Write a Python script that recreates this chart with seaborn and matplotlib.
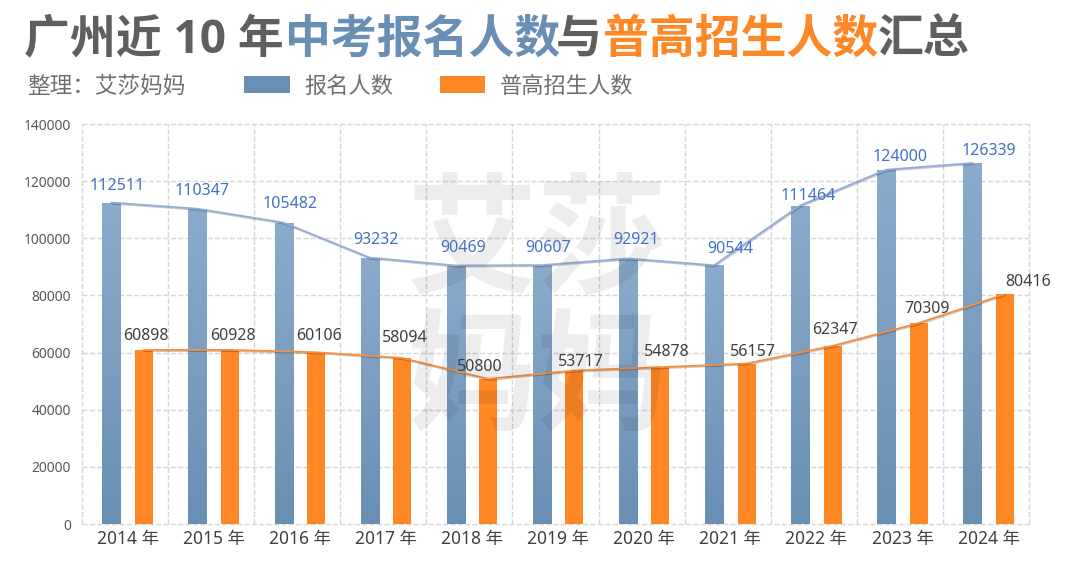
import numpy as np
import pandas as pd
import seaborn as sns
import matplotlib.pyplot as plt
import matplotlib.patheffects as pe
from matplotlib.colors import LinearSegmentedColormap

# datos
years = ['2014 年', '2015 年', '2016 年', '2017 年', '2018 年', '2019 年',
         '2020 年', '2021 年', '2022 年', '2023 年', '2024 年']
baoming = [112511, 110347, 105482, 93232, 90469, 90607, 92921, 90544, 111464, 124000, 126339]
putong = [60898, 60928, 60106, 58094, 50800, 53717, 54878, 56157, 62347, 70309, 80416]
y_ticks = [0, 20000, 40000, 60000, 80000, 100000, 120000, 140000]

name_a = '报名人数'
name_b = '普高招生人数'
blue = '#6a8fb4'
orange = '#fe8726'
gray = '#5f5f5f'

# desplazamiento de las etiquetas en pixeles (dx, arriba)
off_a = [(6, 16.5), (5, 17.7), (6, 18.6), (6, 17.6), (7, 17.5), (6.5, 17), (8, 18.5), (16, 16), (8, 9.5), (14, 12.7), (17, 12)]
off_b = [(2, 14), (3, 14), (3, 16), (3, 20), (-8, 12), (6.5, 8.5), (6, 15), (6, 11.6), (2, 16), (8, 14), (23, 12)]

sns.set_style('white')
plt.rcParams['font.family'] = ['Noto Sans', 'Noto Sans CJK SC', 'DejaVu Sans']
W, H = 1080, 574
fig = plt.figure(figsize=(W / 100, H / 100), dpi=100)
ax = fig.add_axes([82 / W, 1 - 524 / H, (1029 - 82) / W, 400 / H])

df = pd.DataFrame({'year': years * 2,
                   'valor': baoming + putong,
                   'serie': [name_a] * len(years) + [name_b] * len(years)})
sns.barplot(data=df, x='year', y='valor', hue='serie', palette=[blue, orange],
            width=0.755, gap=0.446, saturation=1, edgecolor='none', linewidth=0, ax=ax, zorder=2)

x_a = [b.get_x() + b.get_width() / 2 for b in ax.containers[0]]
x_b = [b.get_x() + b.get_width() / 2 for b in ax.containers[1]]

# degradado de las barras azules
cmap = LinearSegmentedColormap.from_list('azul', ['#8aabcc', blue])
grad = np.linspace(0, 1, 128).reshape(-1, 1)
for b in ax.containers[0]:
    im = ax.imshow(grad, cmap=cmap, aspect='auto', zorder=2.1,
                   extent=[b.get_x(), b.get_x() + b.get_width(), 0, b.get_height()])
    im.set_clip_path(b)

# lineas sobre las barras
sombra = [pe.SimpleLineShadow(offset=(0.5, -0.8), alpha=0.22), pe.Normal()]
sns.lineplot(x=x_a, y=baoming, color='#93acdb', linewidth=1.3, ax=ax, zorder=3, legend=False,
             path_effects=sombra)
sns.lineplot(x=x_b, y=putong, color='#f98f3c', linewidth=1.3, ax=ax, zorder=3, legend=False,
             path_effects=sombra)

# etiquetas
for x, v, (dx, dy) in zip(x_a, baoming, off_a):
    ax.annotate(str(v), (x, v), xytext=(dx * 0.72, dy * 0.72), textcoords='offset points',
                ha='center', va='center', fontsize=11.5, color='#4472c4', zorder=5, annotation_clip=False)
for x, v, (dx, dy) in zip(x_b, putong, off_b):
    ax.annotate(str(v), (x, v), xytext=(dx * 0.72, dy * 0.72), textcoords='offset points',
                ha='center', va='center', fontsize=11.5, color='#404040', zorder=5, annotation_clip=False)

# ejes y rejilla
left = -0.53
ax.set_xlim(left, left + 11)
ax.set_ylim(0, 140000)
ax.set_yticks(y_ticks)
ax.set_xticks([left + k for k in range(12)], minor=True)
ax.set_axisbelow(True)
ax.grid(False)
ax.grid(axis='y', which='major', color='#d6d6d6', linestyle='--', linewidth=1, clip_on=False)
ax.grid(axis='x', which='minor', color='#d6d6d6', linestyle='--', linewidth=1, clip_on=False)
ax.tick_params(axis='both', which='both', length=0)
ax.tick_params(axis='x', labelsize=12.5, labelcolor='#404040', pad=4)
ax.tick_params(axis='y', labelsize=10, labelcolor='#595959', pad=8)
ax.set_xlabel('')
ax.set_ylabel('')
sns.despine(ax=ax, left=True, bottom=True, top=True, right=True)

# marca de agua, por encima de las barras
for txt, ypx in [('艾莎', 245), ('妈妈', 381)]:
    ax.text(537 / W, 1 - ypx / H, txt, transform=fig.transFigure, ha='center', va='center',
            fontsize=94, fontweight='black', color='#000000', alpha=0.07, zorder=4,
            family=['Noto Sans CJK SC', 'DejaVu Sans'])

# titulo por trozos
title_font = ['Open Sans', 'Noto Sans CJK SC', 'DejaVu Sans']
title_parts = [('广州近 10 年', 24, gray), ('中考报名人数', 285, blue), ('与', 556, gray),
               ('普高招生人数', 603, orange), ('汇总', 878, gray)]
for txt, xpx, col in title_parts:
    fig.text(xpx / W, 1 - 40 / H, txt, ha='left', va='center', fontsize=33,
             fontweight='bold', color=col, family=title_font)
fig.text(27 / W, 1 - 87 / H, '整理：艾莎妈妈', ha='left', va='center', fontsize=16.3, color='#6f6f6f')

# leyenda
handles, labels = ax.get_legend_handles_labels()
leg = ax.legend(handles, labels, loc='center left', bbox_to_anchor=(224 / W, 1 - 87 / H),
                bbox_transform=fig.transFigure, ncols=2, frameon=False, fontsize=16,
                handlelength=2.05, handleheight=0.8, handletextpad=0.65, columnspacing=2.1,
                labelcolor='#6f6f6f')

fig.savefig('out.png', dpi=100)
